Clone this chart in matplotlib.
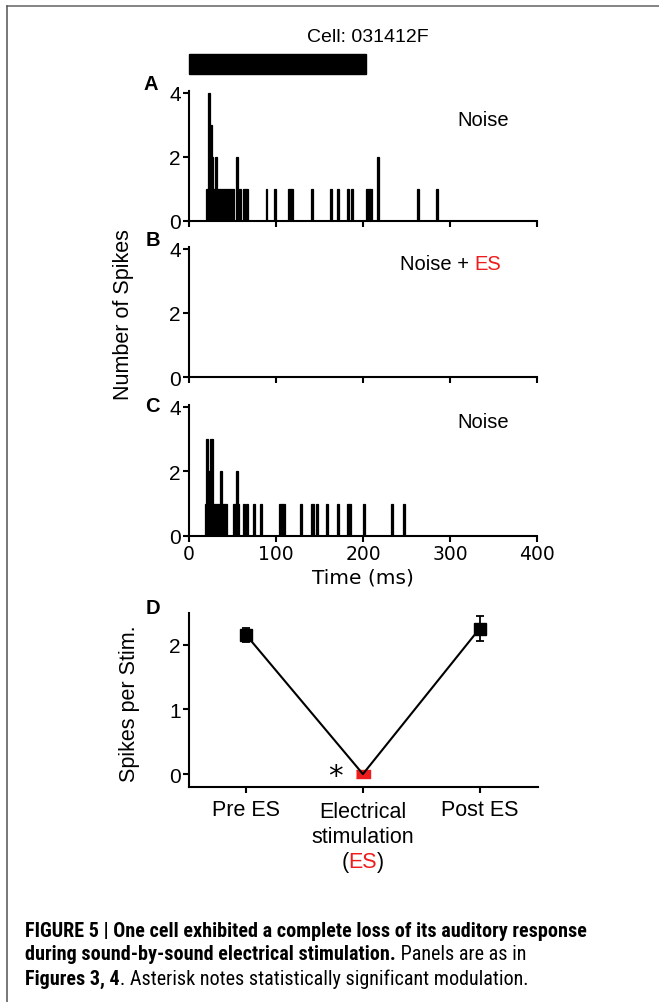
import matplotlib
matplotlib.use("Agg")
import matplotlib.pyplot as plt
from matplotlib import font_manager
from matplotlib.lines import Line2D
from matplotlib.patches import Rectangle

# --- data -----------------------------------------------------------------
BIN_MS = 2
STIM_MS = 203

# PSTH bins (left edge, ms) and spike counts
noise_pre_t = [20, 22, 24, 26, 28, 30, 32, 34, 36, 38, 40, 42, 44, 46, 48, 50,
               54, 58, 62, 64, 66, 88, 98, 114, 116, 118, 140, 162, 170, 182,
               186, 204, 206, 208, 216, 262, 284]
noise_pre_n = [1, 4, 3, 2, 1, 2, 1, 1, 1, 1, 1, 1, 1, 1, 1, 1,
               2, 1, 1, 1, 1, 1, 1, 1, 1, 1, 1, 1, 1, 1,
               1, 1, 1, 1, 2, 1, 1]

noise_es_t = []
noise_es_n = []

noise_post_t = [18, 20, 22, 24, 26, 28, 30, 32, 34, 36, 38, 40, 42, 50, 52, 54,
                56, 62, 66, 74, 82, 104, 106, 108, 128, 140, 142, 146, 158, 170,
                182, 184, 200, 232, 246]
noise_post_n = [1, 3, 2, 3, 3, 1, 1, 1, 1, 2, 1, 1, 1, 1, 1, 2,
                1, 1, 1, 1, 1, 1, 1, 1, 1, 1, 1, 1, 1, 1,
                1, 1, 1, 1, 1]

x_ticks = [0, 100, 200, 300, 400]
y_ticks = [0, 2, 4]

conditions = ["Pre ES", "Electrical stimulation (ES)", "Post ES"]
spikes_per_stim = [2.15, 0.0, 2.25]
spikes_err = [0.11, 0.0, 0.20]

caption_1 = "FIGURE 5 | One cell exhibited a complete loss of its auditory response"
caption_2b = "during sound-by-sound electrical stimulation."
caption_2r = " Panels are as in"
caption_3b = "Figures 3, 4"
caption_3r = ". Asterisk notes statistically significant modulation."

# --- figure ---------------------------------------------------------------
W, H = 659, 1003
fig = plt.figure(figsize=(W / 100, H / 100), dpi=100)
SANS = ["Liberation Sans", "DejaVu Sans"]
RED = "#ee1c1c"

# caption is set in a condensed face in the original; use one if there is one
NARROW = ["Liberation Sans", "DejaVu Sans"]
NARROW_STRETCH = "normal"
installed = font_manager.fontManager.ttflist
names = {f.name for f in installed}
for cand in ["Liberation Sans Narrow", "Roboto Condensed", "Open Sans Condensed"]:
    if cand in names:
        NARROW = [cand, "Liberation Sans"]
        break
else:
    cond = [f for f in installed if f.stretch in ("condensed", "semi-condensed")]
    if cond:
        NARROW = [cond[0].name, "Liberation Sans"]
        NARROW_STRETCH = "condensed"


def px_axes(x0, y0, x1, y1):
    return fig.add_axes([x0 / W, 1 - y1 / H, (x1 - x0) / W, (y1 - y0) / H])


def ftext(x, y, s, **kw):
    return fig.text(x / W, 1 - y / H, s, **kw)


def rich(x, y, parts, size, family, ha="left", stretch="normal"):
    # place differently styled pieces one after another on one line
    r = fig.canvas.get_renderer()
    texts = []
    for s, color, weight in parts:
        t = fig.text(0, 0, s, fontsize=size, color=color, fontweight=weight,
                     family=family, va="center", ha="left", fontstretch=stretch)
        texts.append(t)
    widths = [t.get_window_extent(r).width for t in texts]
    x0 = x - sum(widths) / 2 if ha == "center" else x
    for t, w in zip(texts, widths):
        t.set_position((x0 / W, 1 - y / H))
        x0 += w
    return sum(widths)


def style_axes(ax):
    for s in ["top", "right"]:
        ax.spines[s].set_visible(False)
    for s in ["left", "bottom"]:
        ax.spines[s].set_linewidth(1.5)
    ax.tick_params(direction="out", length=4, width=1.5, pad=2)


psth = [(noise_pre_t, noise_pre_n, 92, 222), (noise_es_t, noise_es_n, 248, 378),
        (noise_post_t, noise_post_n, 406, 537)]
axes = []
for i, (t, n, top, bot) in enumerate(psth):
    ax = px_axes(189, top, 537, bot)
    ax.bar(t, n, width=BIN_MS, align="edge", color="black", edgecolor="black",
           linewidth=0.9)
    ax.set_xlim(0, 400)
    ax.set_ylim(0, 4.06)
    ax.set_xticks(x_ticks)
    ax.set_yticks(y_ticks)
    ax.set_yticklabels([str(v) for v in y_ticks], fontsize=15, family=SANS)
    style_axes(ax)
    if i < 2:
        ax.set_xticklabels([])
    else:
        ax.set_xticklabels([str(v) for v in x_ticks], fontsize=13.5, family="DejaVu Sans")
        ax.set_xlabel("Time (ms)", fontsize=14.5, family="DejaVu Sans", labelpad=3)
    axes.append(ax)

# stimulus bar above panel A
ax_a = axes[0]
ax_a.add_patch(Rectangle((0, 4.6), STIM_MS, 0.6, color="black", clip_on=False))

ftext(368, 38, "Cell: 031412F", fontsize=14, family=SANS, ha="center", va="center")
ftext(483, 121, "Noise", fontsize=14.5, family=SANS, ha="center", va="center")
rich(400, 265, [("Noise + ", "black", "normal"), ("ES", RED, "normal")], 14.5, SANS)
ftext(483, 423, "Noise", fontsize=14.5, family=SANS, ha="center", va="center")

for lab, (x, y) in zip("ABCD", [(151, 85), (153, 241), (152, 406), (153, 609)]):
    ftext(x, y, lab, fontsize=14.5, fontweight="bold", family=SANS, ha="center", va="center")

ftext(124, 315, "Number of Spikes", fontsize=15.5, family=SANS, rotation=90,
      ha="center", va="center")

# --- panel D --------------------------------------------------------------
ax_d = px_axes(189, 614, 538, 788)
xs = list(range(len(conditions)))
ax_d.errorbar(xs, spikes_per_stim, yerr=spikes_err, fmt="-", color="black",
              lw=1.5, elinewidth=1.3, capsize=3, capthick=1.3)
ax_d.plot([xs[0], xs[2]], [spikes_per_stim[0], spikes_per_stim[2]], "s",
          color="black", ms=8.5, ls="none")
ax_d.plot([xs[1]], [spikes_per_stim[1]], ls="none", color=RED, ms=10,
          marker=[(-1.6, -1), (1.6, -1), (1.6, 1), (-1.6, 1)])
ax_d.set_xlim(-0.49, 2.5)
ax_d.set_ylim(-0.2, 2.49)
ax_d.set_xticks(xs)
ax_d.set_xticklabels([])
ax_d.set_yticks([0, 1, 2])
ax_d.set_yticklabels(["0", "1", "2"], fontsize=15, family=SANS)
style_axes(ax_d)

ftext(130, 704, "Spikes per Stim.", fontsize=15.5, family=SANS, rotation=90,
      ha="center", va="center")

fig.canvas.draw()
cx = [ax_d.transData.transform((x, 0))[0] for x in xs]
ftext(cx[0], 811, "Pre ES", fontsize=15.5, family=SANS, ha="center", va="center")
ftext(cx[1], 813, "Electrical", fontsize=15.5, family=SANS, ha="center", va="center")
ftext(cx[1], 838, "stimulation", fontsize=15.5, family=SANS, ha="center", va="center")
rich(cx[1], 863, [("(", "black", "normal"), ("ES", RED, "normal"),
                  (")", "black", "normal")], 15.5, SANS, ha="center")
ftext(cx[2], 811, "Post ES", fontsize=15.5, family=SANS, ha="center", va="center")

# significance asterisk
ftext(335, 785, "*", fontsize=21, family="DejaVu Sans", ha="center", va="baseline")

# --- caption and frame ----------------------------------------------------
r = fig.canvas.get_renderer()
probe = fig.text(0, 0, caption_1, fontsize=10, fontweight="bold", family=NARROW,
                 fontstretch=NARROW_STRETCH)
cap_size = min(14.5, 10 * 616 / probe.get_window_extent(r).width)
probe.remove()

rich(25, 932, [(caption_1, "black", "bold")], cap_size, NARROW, stretch=NARROW_STRETCH)
rich(25, 955, [(caption_2b, "black", "bold"), (caption_2r, "black", "normal")],
     cap_size, NARROW, stretch=NARROW_STRETCH)
rich(25, 979, [(caption_3b, "black", "bold"), (caption_3r, "black", "normal")],
     cap_size, NARROW, stretch=NARROW_STRETCH)

fig.add_artist(Line2D([7 / W, 1], [1 - 7 / H, 1 - 7 / H], color="#707070", lw=1.2))
fig.add_artist(Line2D([7 / W, 7 / W], [0, 1 - 7 / H], color="#606060", lw=1.2))

fig.savefig("out.png", dpi=100)
